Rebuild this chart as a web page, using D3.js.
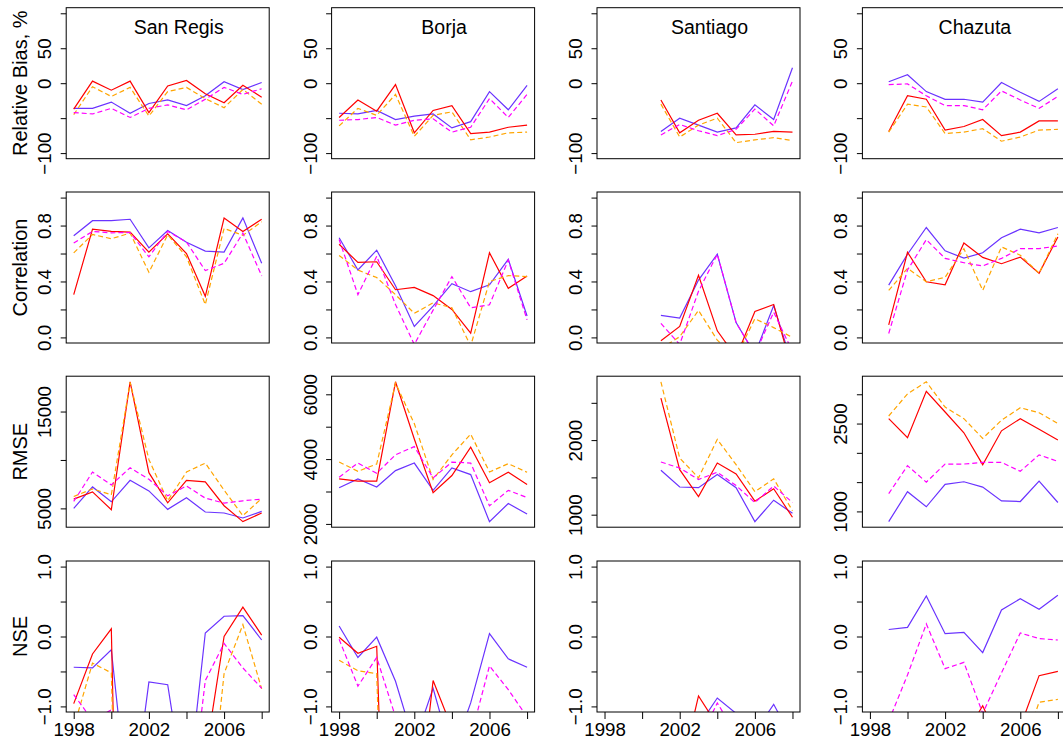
<!DOCTYPE html>
<html>
<head>
<meta charset="utf-8">
<script src="https://cdn.jsdelivr.net/npm/d3@7/dist/d3.min.js"></script>
<style>
  body { margin: 0; background: #fff; }
  text { font-family: "Liberation Sans", Arial, Helvetica, sans-serif; }
</style>
</head>
<body>
<div id="root"></div>
<script>
// years on the x axis
var years = [1998, 1999, 2000, 2001, 2002, 2003, 2004, 2005, 2006, 2007, 2008];
var yearTicks = [1998, 2000, 2002, 2004, 2006, 2008];
var yearLabels = [1998, 2002, 2006];

var stations = ['San Regis', 'Borja', 'Santiago', 'Chazuta'];
var metrics = ['Relative Bias, %', 'Correlation', 'RMSE', 'NSE'];

// four series per panel: blue, red, orange (dashed), magenta (dashed)
var seriesColors = ['#6a33ff', '#ff0000', '#ffa500', '#ff00ff'];
var seriesDash = [null, null, '5,3', '5,3'];

var n = null;

// Relative bias, %
var rbSanRegis = [
  [-36, -36, -27, -43, -29, -24, -32, -18, 2, -9, 1],
  [-37, 3, -10, 3, -42, -4, 4, -15, -28, -3, -20],
  [-45, -5, -19, -6, -47, -12, -6, -22, -35, -9, -30],
  [-42, -44, -36, -49, -36, -31, -38, -23, -6, -16, -8]
];
var rbBorja = [
  [-43, -44, -39, -52, -47, -44, -64, -55, -12, -38, -3],
  [-49, -24, -40, -2, -71, -39, -32, -72, -70, -63, -60],
  [-61, -36, -46, -16, -76, -46, -41, -81, -77, -71, -70],
  [-53, -52, -49, -60, -53, -51, -70, -63, -22, -49, -16]
];
var rbSantiago = [
  [n, n, n, -69, -50, -60, -70, -64, -31, -52, 22],
  [n, n, n, -24, -71, -53, -43, -74, -73, -69, -70],
  [n, n, n, -30, -77, -60, -50, -85, -81, -78, -82],
  [n, n, n, -74, -59, -68, -75, -66, -37, -61, 3]
];
var rbChazuta = [
  [n, 2, 12, -12, -23, -23, -27, 1, -13, -26, -8],
  [n, -69, -18, -23, -67, -62, -52, -75, -70, -54, -54],
  [n, -70, -30, -34, -72, -70, -65, -83, -77, -67, -66],
  [n, -2, -1, -18, -32, -32, -38, -11, -24, -36, -19]
];

// Correlation
var corSanRegis = [
  [0.727, 0.835, 0.835, 0.845, 0.64, 0.765, 0.68, 0.617, 0.61, 0.855, 0.53],
  [0.306, 0.774, 0.758, 0.753, 0.61, 0.741, 0.60, 0.294, 0.854, 0.758, 0.845],
  [0.605, 0.736, 0.706, 0.746, 0.466, 0.734, 0.576, 0.235, 0.78, 0.73, 0.828],
  [0.675, 0.758, 0.748, 0.75, 0.576, 0.758, 0.682, 0.478, 0.53, 0.746, 0.44]
];
var corBorja = [
  [0.713, 0.482, 0.624, 0.369, 0.078, 0.224, 0.384, 0.327, 0.376, 0.558, 0.153],
  [0.666, 0.536, 0.541, 0.341, 0.358, 0.299, 0.2, 0.031, 0.605, 0.351, 0.44],
  [0.586, 0.482, 0.428, 0.306, 0.172, 0.247, 0.212, -0.06, 0.4, 0.442, 0.435],
  [0.70, 0.306, 0.581, 0.235, -0.05, 0.195, 0.435, 0.212, 0.233, 0.553, 0.125]
];
var corSantiago = [
  [n, n, n, 0.158, 0.139, 0.41, 0.595, 0.106, -0.12, 0.228, -0.2],
  [n, n, n, -0.024, 0.078, 0.445, 0.047, -0.14, 0.186, 0.235, -0.24],
  [n, n, n, -0.08, 0.005, 0.193, -0.02, -0.14, 0.134, 0.07, 0.0],
  [n, n, n, 0.1, -0.05, 0.33, 0.595, 0.106, -0.12, 0.18, -0.1]
];
var corChazuta = [
  [n, 0.374, 0.595, 0.786, 0.619, 0.567, 0.605, 0.713, 0.774, 0.748, 0.786],
  [n, 0.089, 0.609, 0.398, 0.376, 0.675, 0.572, 0.527, 0.574, 0.459, 0.718],
  [n, 0.336, 0.494, 0.398, 0.43, 0.635, 0.336, 0.647, 0.588, 0.459, 0.741],
  [n, 0.028, 0.482, 0.699, 0.565, 0.534, 0.511, 0.565, 0.635, 0.635, 0.654]
];

// RMSE
var rmseSanRegis = [
  [5000, 7218, 5683, 7901, 6809, 4898, 6092, 4625, 4522, 4010, 4693],
  [5956, 6706, 4863, 18072, 8686, 5580, 7901, 7730, 5273, 3635, 4522],
  [6229, 7014, 6399, 18003, 10051, 5785, 8754, 9676, 6877, 4249, 6024],
  [5717, 8754, 7423, 9198, 8003, 6297, 7321, 6058, 5546, 5785, 5956]
];
var rmseBorja = [
  [3117, 3391, 3137, 3645, 3878, 3036, 3726, 3523, 2071, 2629, 2305],
  [3391, 3320, 3320, 6386, 4619, 2964, 3492, 4365, 3269, 3594, 3218],
  [3909, 3624, 3848, 6345, 5096, 3371, 4132, 4772, 3604, 3858, 3594],
  [3442, 3878, 3563, 4132, 4386, 3421, 3909, 3878, 2558, 3036, 2812]
];
var rmseSantiago = [
  [n, n, n, 1596, 1371, 1362, 1538, 1362, 907, 1194, 1018],
  [n, n, n, 2562, 1604, 1243, 1693, 1547, 1181, 1348, 965],
  [n, n, n, 2782, 1759, 1494, 2010, 1670, 1309, 1481, 1053],
  [n, n, n, 1706, 1626, 1472, 1569, 1390, 1163, 1384, 1163]
];
var rmseChazuta = [
  [n, 826, 1337, 1079, 1461, 1506, 1416, 1180, 1169, 1517, 1152],
  [n, 2584, 2258, 3051, 2697, 2343, 1798, 2376, 2584, 2404, 2219],
  [n, 2629, 3006, 3213, 2781, 2584, 2247, 2556, 2770, 2685, 2500],
  [n, 1303, 1781, 1500, 1809, 1809, 1837, 1837, 1685, 1966, 1854]
];

// NSE (many values fall below the plotted range)
var nseSanRegis = [
  [-0.44, -0.45, -0.19, -2.7, -0.65, -0.69, -2.4, 0.05, 0.29, 0.30, -0.05],
  [-0.96, -0.25, 0.11, -12, -8, -5, -3, -1.73, 0.0, 0.42, 0.02],
  [-1.3, -0.38, -0.52, -10, -8, -6, -5, -3.1, -0.53, 0.17, -0.75],
  [-0.83, -1.2, -1.05, -9, -7, -5, -2.9, -0.63, -0.1, -0.45, -0.74]
];
var nseBorja = [
  [0.15, -0.30, -0.01, -0.64, -1.53, -0.74, -1.7, -0.95, 0.04, -0.32, -0.44],
  [-0.01, -0.24, -0.14, -8, -3, -0.63, -1.31, -2, -2.5, -2.2, -2.4],
  [-0.34, -0.49, -0.53, -9, -6, -4, -3, -3, -2.5, -2.6, -2.5],
  [-0.04, -0.71, -0.30, -1.15, -3, -2, -2, -1.44, -0.42, -0.76, -1.15]
];
var nseSantiago = [
  [n, n, n, -3, -2.5, -1.28, -0.88, -1.1, -1.37, -0.97, -1.47],
  [n, n, n, -3, -2.0, -0.85, -1.27, -2, -2.5, -2, -2.5],
  [n, n, n, -3, -3, -2.5, -2, -2.5, -2.5, -2, -2.2],
  [n, n, n, -3, -2.5, -1.5, -0.95, -1.4, -2, -1.6, -2]
];
var nseChazuta = [
  [n, 0.10, 0.13, 0.58, 0.04, 0.06, -0.23, 0.38, 0.54, 0.39, 0.59],
  [n, -3, -2.5, -2, -1.8, -1.45, -0.99, -1.58, -1.29, -0.56, -0.5],
  [n, -3, -3, -2.5, -2.5, -2.5, -2.5, -2.2, -1.72, -0.94, -0.9],
  [n, -1.21, -0.55, 0.18, -0.46, -0.37, -1.1, -0.52, 0.05, -0.03, -0.05]
];

var panels = [
  [rbSanRegis, rbBorja, rbSantiago, rbChazuta],
  [corSanRegis, corBorja, corSantiago, corChazuta],
  [rmseSanRegis, rmseBorja, rmseSantiago, rmseChazuta],
  [nseSanRegis, nseBorja, nseSantiago, nseChazuta]
];

// y ticks; rows 0,1,3 share limits, RMSE differs per station
var rbTicks = [-100, -50, 0, 50, 100], rbLabels = [-100, 0, 50];
var corTicks = [0, 0.2, 0.4, 0.6, 0.8, 1], corLabels = [0, 0.4, 0.8];
var nseTicks = [-1, -0.5, 0, 0.5, 1], nseLabels = [-1, 0, 1];
var rmseTicks = [
  [5000, 10000, 15000],
  [2000, 3000, 4000, 5000, 6000],
  [1000, 1500, 2000, 2500],
  [1000, 1500, 2000, 2500, 3000]
];
var rmseLabels = [[5000, 15000], [2000, 4000, 6000], [1000, 2000], [1000, 2500]];

var W = 1063, H = 739;
var boxW = 203, boxH = 151;
var colLeft = [66.2, 331.6, 597, 862.4];
var rowTop = [7.7, 192, 376.2, 561];

var svg = d3.select('#root')
  .append('svg')
    .attr('width', W)
    .attr('height', H);

// R style 4% padding on both ends
var padded = (lo, hi) => {
  var d = (hi - lo) * 0.04;
  return [lo - d, hi + d];
};

var fmtNum = (row, v) => {
  var s;
  if (row === 1 || row === 3) s = d3.format('.1f')(v);
  else s = String(v);
  return s.replace('-', '\u2212');
};

panels.forEach((rowData, r) => {
  rowData.forEach((series, c) => {
    var x0 = colLeft[c], y0 = rowTop[r];
    var g = svg.append('g').attr('transform', 'translate(' + x0 + ',' + y0 + ')');

    var x = d3.scaleLinear()
      .domain(padded(1998, 2008))
      .range([0, boxW]);

    var ydom, ticks, labels;
    if (r === 0) { ydom = padded(-100, 100); ticks = rbTicks; labels = rbLabels; }
    if (r === 1) { ydom = padded(0, 1); ticks = corTicks; labels = corLabels; }
    if (r === 3) { ydom = padded(-1, 1); ticks = nseTicks; labels = nseLabels; }
    if (r === 2) {
      var all = d3.merge(series).filter(v => v != null);
      ydom = padded(d3.min(all), d3.max(all));
      ticks = rmseTicks[c]; labels = rmseLabels[c];
    }
    var y = d3.scaleLinear().domain(ydom).range([boxH, 0]);

    var clipId = 'clip-' + r + '-' + c;
    g.append('clipPath').attr('id', clipId)
      .append('rect').attr('width', boxW).attr('height', boxH);

    var line = d3.line()
      .defined(d => d != null)
      .x((d, i) => x(years[i]))
      .y(d => y(d));

    var lines = g.append('g').attr('clip-path', 'url(#' + clipId + ')');
    series.forEach((vals, k) => {
      lines.append('path')
        .attr('d', line(vals))
        .attr('fill', 'none')
        .attr('stroke', seriesColors[k])
        .attr('stroke-width', 1.2)
        .attr('stroke-dasharray', seriesDash[k]);
    });

    // frame
    g.append('rect')
      .attr('width', boxW).attr('height', boxH)
      .attr('fill', 'none').attr('stroke', '#000').attr('stroke-width', 1);

    // y axis
    var yAxis = g.append('g')
      .call(d3.axisLeft(y)
        .tickValues(ticks)
        .tickSize(5.5)
        .tickSizeOuter(0)
        .tickFormat(v => labels.indexOf(v) >= 0 ? fmtNum(r, v) : ''));
    yAxis.select('.domain').remove();
    yAxis.attr('font-family', null).attr('font-size', 18.7);
    yAxis.selectAll('.tick line').attr('stroke', '#000');
    yAxis.selectAll('.tick text')
      .attr('x', null).attr('dy', null)
      .attr('fill', '#000')
      .attr('text-anchor', 'middle')
      .attr('transform', 'translate(-15,0) rotate(-90)');

    // x axis only on the bottom row
    if (r === 3) {
      var xAxis = g.append('g')
        .attr('transform', 'translate(0,' + boxH + ')')
        .call(d3.axisBottom(x)
          .tickValues(yearTicks)
          .tickSize(7)
          .tickSizeOuter(0)
          .tickFormat(v => yearLabels.indexOf(v) >= 0 ? String(v) : ''));
      xAxis.select('.domain').remove();
      xAxis.attr('font-family', null).attr('font-size', 18.7);
      xAxis.selectAll('.tick line').attr('stroke', '#000');
      xAxis.selectAll('.tick text')
        .attr('fill', '#000')
        .attr('y', 23.5).attr('dy', null);
    }

    // station names above the first row
    if (r === 0) {
      g.append('text')
        .attr('x', boxW / 2 + 11)
        .attr('y', 26.5)
        .attr('text-anchor', 'middle')
        .attr('font-size', 19.5)
        .text(stations[c]);
    }

    // metric name on the left column
    if (c === 0) {
      g.append('text')
        .attr('transform', 'translate(-38.7,' + (boxH / 2) + ') rotate(-90)')
        .attr('text-anchor', 'middle')
        .attr('font-size', 20)
        .text(metrics[r]);
    }
  });
});
</script>
</body>
</html>
